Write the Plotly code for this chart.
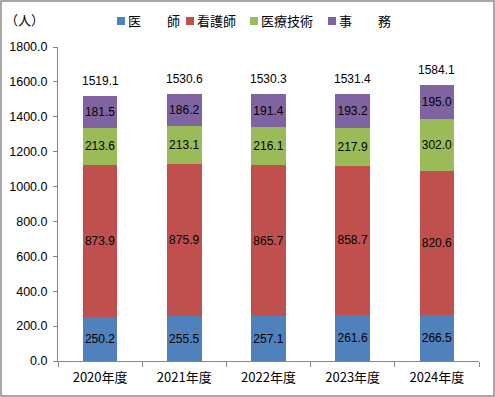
import plotly.graph_objects as go

categories = ["2020年度", "2021年度", "2022年度", "2023年度", "2024年度"]
doctors = [250.2, 255.5, 257.1, 261.6, 266.5]
nurses = [873.9, 875.9, 865.7, 858.7, 820.6]
medtech = [213.6, 213.1, 216.1, 217.9, 302.0]
office = [181.5, 186.2, 191.4, 193.2, 195.0]
totals = [1519.1, 1530.6, 1530.3, 1531.4, 1584.1]
series_names = ["医　　師", "看護師", "医療技術", "事　　務"]
colors = ["#4F81BD", "#C0504D", "#9BBB59", "#8064A2"]
yticks = [0, 200, 400, 600, 800, 1000, 1200, 1400, 1600, 1800]

num_font = "Liberation Sans, DejaVu Sans, sans-serif"
jp_font = "Noto Sans CJK JP, sans-serif"

# plot area geometry (px)
L, T, R, B = 58, 47, 16, 36
W, H = 495 - L - R, 397 - T - B


def px_x(px):
    return (px - L) / W


def px_y(py):
    return (397 - B - py) / H


fig = go.Figure()
for name, vals, col in zip(series_names, [doctors, nurses, medtech, office], colors):
    fig.add_trace(go.Bar(
        x=categories, y=vals, name=name, marker=dict(color=col, line=dict(width=0)),
        text=[f"{v:.1f}" for v in vals], textposition="inside", insidetextanchor="middle",
        textfont=dict(family=num_font, size=12, color="black"), textangle=0,
        constraintext="none", width=0.41, showlegend=False,
    ))

# legend (layout decoration) : small squares + labels along the top
legend_left = [117, 186, 250, 328]
shapes = [dict(type="rect", xref="paper", yref="paper", x0=px_x(1), x1=px_x(494),
               y0=px_y(396), y1=px_y(1), line=dict(color="#8c8c8c", width=1.5))]
annotations = [dict(text="（人）", xref="paper", yref="paper", x=px_x(3), y=px_y(20),
                    xanchor="left", yanchor="middle", showarrow=False,
                    font=dict(family=jp_font, size=13))]
for name, col, lx in zip(series_names, colors, legend_left):
    shapes.append(dict(type="rect", xref="paper", yref="paper", x0=px_x(lx), x1=px_x(lx + 8),
                       y0=px_y(25), y1=px_y(17), fillcolor=col, line=dict(width=0)))
    annotations.append(dict(text=name, xref="paper", yref="paper", x=px_x(lx + 9), y=px_y(20.5),
                            xanchor="left", yanchor="middle", showarrow=False,
                            font=dict(family=jp_font, size=13)))

# totals above each stacked bar
for cat, tot in zip(categories, totals):
    annotations.append(dict(text=f"{tot:.1f}", x=cat, y=tot, xref="x", yref="y",
                            xanchor="center", yanchor="bottom", yshift=6, showarrow=False,
                            font=dict(family=num_font, size=12, color="black")))

fig.update_layout(
    barmode="stack",
    width=495, height=397,
    margin=dict(l=L, r=R, t=T, b=B, autoexpand=False),
    paper_bgcolor="white", plot_bgcolor="white",
    font=dict(family=jp_font, size=12, color="black"),
    showlegend=False,
    shapes=shapes,
    annotations=annotations,
)
fig.update_xaxes(showline=True, linecolor="#868686", linewidth=1, ticks="outside",
                 tickson="boundaries", ticklen=5, tickcolor="#868686",
                 tickfont=dict(family=jp_font, size=13), showgrid=False,
                 ticklabelstandoff=4)
fig.update_yaxes(range=[0, 1800], tickvals=yticks, ticktext=[f"{v:.1f}" for v in yticks],
                 showline=True, linecolor="#868686", linewidth=1, ticks="outside",
                 ticklen=4, tickcolor="#868686", showgrid=False, zeroline=False,
                 tickfont=dict(family=num_font, size=12.5), ticklabelstandoff=3)

fig.write_html("out.html", post_script="document.body.style.margin='0';",
               config={"displayModeBar": False})
